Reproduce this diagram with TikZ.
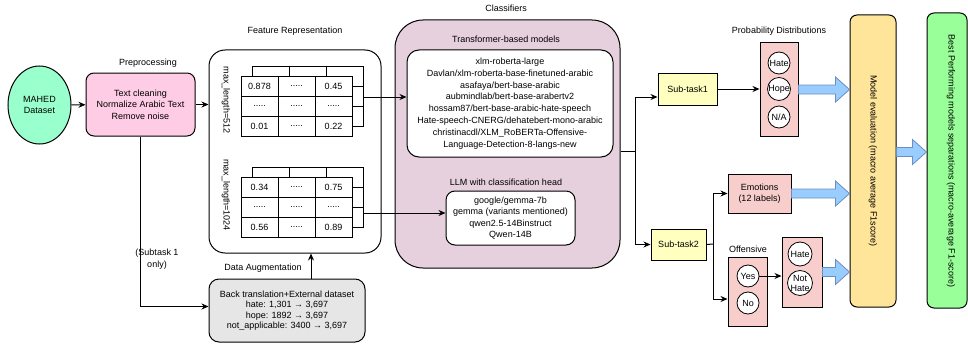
\documentclass[tikz,border=0pt]{standalone}
\usepackage{fontspec}
\setmainfont{Liberation Sans}
\usetikzlibrary{arrows.meta,calc,shapes.geometric}

\definecolor{verdeagua}{HTML}{99FFCC}
\definecolor{rosa}{HTML}{FFCCE6}
\definecolor{lilas}{HTML}{E6D0DE}
\definecolor{amarelo}{HTML}{FFFFC0}
\definecolor{vermelho}{HTML}{F8CECC}
\definecolor{laranja}{HTML}{FFE599}
\definecolor{verde}{HTML}{99FF99}
\definecolor{cinza}{HTML}{E6E6E6}
\definecolor{azul}{HTML}{99CCFF}
\definecolor{azulborda}{HTML}{6C8EBF}

\begin{document}
\begin{tikzpicture}[x=1pt, y=-1pt, line width=1pt,
		every node/.style={font=\fontsize{9}{11.5}\selectfont, align=center, inner sep=1pt},
		seta/.style={-{Stealth[length=7pt,width=6pt]}},
		caixa/.style={draw, line width=1pt},
		circulo/.style={draw, circle, fill=white, line width=0.8pt, minimum size=22pt, inner sep=0pt},
		grade/.style={line width=0.6pt},
		setagrossa/.style={draw=azulborda, fill=azul, line width=0.8pt,
			to path={let \p1=(\tikztostart), \p2=(\tikztotarget) in
				(\x1,\y1+4.5pt) -- (\x2-14pt,\y1+4.5pt) -- (\x2-14pt,\y1+12.5pt) -- (\x2,\y1)
				-- (\x2-14pt,\y1-12.5pt) -- (\x2-14pt,\y1-4.5pt) -- (\x1,\y1-4.5pt) -- cycle}}]
			\useasboundingbox (0,0) rectangle (968,345);
			
			% Conjunto de dados e pré-processamento
			\node[caixa, ellipse, fill=verdeagua, minimum width=63pt, minimum height=78pt] (mahed) at (39.5,105) {MAHED\\Dataset};
			\node (tprep) at (148,63) {Preprocessing};
			\node[caixa, rounded corners=8pt, fill=rosa, minimum width=109pt, minimum height=63pt] (prep) at (140.5,104.5) {Text cleaning\\Normalize Arabic Text\\Remove noise};
			
			% Representação das características
			\node (tfeat) at (295,31) {Feature Representation};
			\node[caixa, rounded corners=16pt, minimum width=172pt, minimum height=203pt] (feat) at (295,151.5) {};
			\node[rotate=-90] (ml512) at (226,100) {max\_length=512};
			\node[rotate=-90] (ml1024) at (226,195) {max\_length=1024};
			
			% Tabelas de valores
			\foreach \t/\dy/\va/\vb/\vc/\vd in {1/0/0.878/0.45/0.01/0.22, 2/101/0.34/0.75/0.56/0.89} {
				\begin{scope}[shift={(0,\dy)}]
					\draw[grade] (252,76) |- (363,66) -- (363,126) -- (352,126);
					\draw[grade] (289,66) -- (289,76) (326,66) -- (326,76) (352,86) -- (363,86) (352,106) -- (363,106);
					\draw[grade, fill=white] (241,76) rectangle (352,136);
					\draw[grade] (278,76) -- (278,136) (315,76) -- (315,136) (241,96) -- (352,96) (241,116) -- (352,116);
					\node (c\t-1) at (259.5,86) {\va};
					\node (c\t-2) at (296.5,86) {.....};
					\node (c\t-3) at (333.5,86) {\vb};
					\node (c\t-4) at (259.5,106) {.....};
					\node (c\t-5) at (296.5,106) {.....};
					\node (c\t-6) at (333.5,106) {.....};
					\node (c\t-7) at (259.5,126) {\vc};
					\node (c\t-8) at (296.5,126) {.....};
					\node (c\t-9) at (333.5,126) {\vd};
				\end{scope}
			}
			\coordinate (saida1) at (363,97);
			\coordinate (saida2) at (363,213);
			
			% Aumento de dados
			\node (taug) at (263,268) {Data Augmentation};
			\node[caixa, rounded corners=10pt, fill=cinza, minimum width=156pt, minimum height=63pt, font=\fontsize{9}{10.5}\selectfont] (aug) at (287,310.5) {Back translation+External dataset\\hate: 1,301 → 3,697\\hope: 1892 → 3,697\\not\_applicable: 3400 → 3,697};
			\node (tsub) at (157,259) {(Subtask 1\\only)};
			
			% Classificadores
			\node (tclf) at (506,8) {Classifiers};
			\node[caixa, rounded corners=28pt, fill=lilas, minimum width=225pt, minimum height=248pt] (clf) at (507.5,144) {};
			\node (ttrans) at (506,39) {Transformer-based models};
			\node[caixa, rounded corners=12pt, fill=white, minimum width=206pt, minimum height=107pt, font=\fontsize{9}{11.8}\selectfont] (trans) at (510,103.5) {xlm-roberta-large\\Davlan/xlm-roberta-base-finetuned-arabic\\asafaya/bert-base-arabic\\aubmindlab/bert-base-arabertv2\\hossam87/bert-base-arabic-hate-speech\\Hate-speech-CNERG/dehatebert-mono-arabic\\christinacdl/XLM\_RoBERTa-Offensive-\\Language-Detection-8-langs-new};
			\node (tllm) at (506,182) {LLM with classification head};
			\node[caixa, rounded corners=9pt, fill=white, minimum width=129pt, minimum height=54pt] (llm) at (510.5,218) {google/gemma-7b\\gemma (variants mentioned)\\qwen2.5-14Binstruct\\Qwen-14B};
			
			% Subtarefa 1
			\node[caixa, fill=amarelo, minimum width=59pt, minimum height=32pt] (st1) at (687.5,89) {Sub-task1};
			\node (tprob) at (779,31) {Probability Distributions};
			\node[caixa, fill=vermelho, minimum width=38pt, minimum height=93pt] (prob) at (779,89.5) {};
			\node[circulo] (hate) at (779,63) {Hate};
			\node[circulo] (hope) at (779,89) {Hope};
			\node[circulo] (na) at (779,117) {N/A};
			
			% Subtarefa 2
			\node[caixa, fill=amarelo, minimum width=55pt, minimum height=31pt] (st2) at (678.5,244.5) {Sub-task2};
			\node[caixa, fill=vermelho, minimum width=63pt, minimum height=39pt] (emo) at (759.5,193.5) {Emotions\\(12 labels)};
			\node (toff) at (748,249) {Offensive};
			\node[caixa, fill=vermelho, minimum width=39pt, minimum height=69pt] (off) at (747.5,291.5) {};
			\node[circulo] (yes) at (748,276) {Yes};
			\node[circulo] (no) at (748,303) {No};
			\node[caixa, fill=vermelho, minimum width=40pt, minimum height=70pt] (hb) at (802,272) {};
			\node[circulo, minimum size=24pt] (hate2) at (800,254) {Hate};
			\node[circulo, minimum size=24pt, font=\fontsize{9}{10}\selectfont] (nothate) at (800,283) {Not\\Hate};
			
			% Avaliação e melhores modelos
			\node[caixa, rounded corners=7pt, fill=laranja, minimum width=46pt, minimum height=292pt] (aval) at (873,161) {};
			\node[rotate=-90] (taval) at (aval.center) {Model evaluation (macro average F1score)};
			\node[caixa, rounded corners=7pt, fill=verde, minimum width=40pt, minimum height=295pt] (best) at (947,160.5) {};
			\node[rotate=-90] (tbest) at (951,161) {Best Performing models separations (macro-average F1-score)};
			
			% Conexões
			\draw[seta] (mahed) -- (prep);
			\draw[seta] (prep) -- (feat.west |- prep);
			\draw[seta] (prep.south) |- ([yshift=4pt]aug.west);
			\draw[seta] ([xshift=24pt]aug.north) -- ([xshift=24pt]aug.north |- feat.south);
			\draw[seta] (saida1) -- (trans.west |- saida1);
			\draw[seta] (saida2) -- (llm.west |- saida2);
			\coordinate (junta1) at (635,151);
			\draw (clf.east |- junta1) -- (junta1);
			\draw[seta] (junta1) |- ([yshift=-8pt]st1.west);
			\draw[seta] (junta1) |- (st2.west);
			\draw[seta] (st1) -- (prob.west |- st1);
			\coordinate (junta2) at (713,244);
			\draw (st2.east) -- (junta2);
			\draw[seta] (junta2) |- (emo.west);
			\draw[seta] (junta2) |- ([yshift=-7.5pt]off.west);
			\draw[seta] (yes) -- (hb.west |- yes);
			
			% Setas largas
			\draw[setagrossa] (prob.east) to (aval.west |- prob.east);
			\draw[setagrossa] (emo.east) to (aval.west |- emo.east);
			\draw[setagrossa] (hb.east) to (aval.west |- hb.east);
			\draw[setagrossa] (aval.east |- 0,152) to (best.west |- 0,152);
		\end{tikzpicture}
\end{document}
